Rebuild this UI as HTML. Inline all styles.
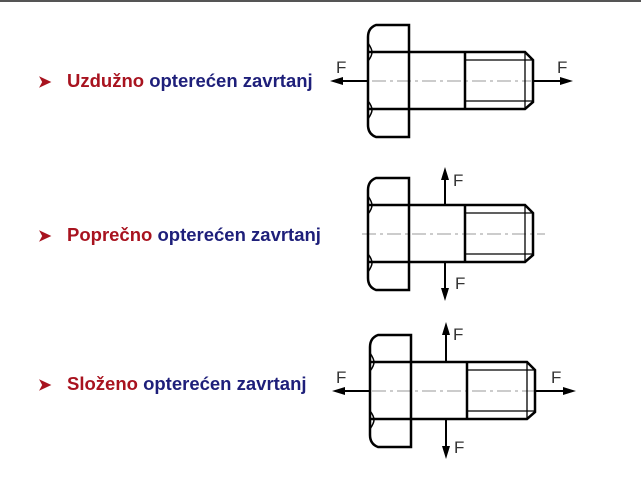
<!DOCTYPE html>
<html><head><meta charset="utf-8"><style>
html,body{margin:0;padding:0;background:#fff;}
body{width:641px;height:490px;position:relative;overflow:hidden;}
.t{position:absolute;left:38px;font-family:"Liberation Sans",sans-serif;font-weight:bold;font-size:18.5px;white-space:nowrap;line-height:22px;}
.r{color:#a8131f}.b{color:#1e1f7a}
.ar{color:#a8131f;font-size:16px;display:inline-block;width:29px;}
</style></head><body>
<div style="position:absolute;left:0;top:0;width:641px;height:2px;background:#555"></div>
<div class="t" style="top:70px"><span class="ar">➤</span><span class="r">Uzdužno</span> <span class="b">opterećen zavrtanj</span></div>
<div class="t" style="top:224px"><span class="ar">➤</span><span class="r">Poprečno</span> <span class="b">opterećen zavrtanj</span></div>
<div class="t" style="top:373px"><span class="ar">➤</span><span class="r">Složeno</span> <span class="b">opterećen zavrtanj</span></div>
<svg width="641" height="490" style="position:absolute;left:0;top:0" xmlns="http://www.w3.org/2000/svg">
<defs>
<g id="bolt" fill="none" stroke="#000">
 <path d="M41,-56 H8 Q0,-53 0,-44 V44 Q0,53 8,56 H41 Z" stroke-width="2.5"/>
 <path d="M0,-38 Q4,-32 4,-29 M0,38 Q4,32 4,29 M0,-20 Q4,-25 4,-29 M0,20 Q4,25 4,29" stroke-width="1.5"/>
 <path d="M0,-29 H41 M0,28 H41" stroke-width="2.5"/>
 <path d="M41,-29 H157 L165,-21 V21 L157,28 H41" stroke-width="2.5"/>
 <path d="M97,-29 V28" stroke-width="2.5"/>
 <path d="M97,-21 H165 M97,20 H165 M157,-29 V28" stroke-width="1.3"/>
</g>
</defs>
<g stroke="#999" stroke-width="1" stroke-dasharray="14,4,3,4" fill="none">
 <path d="M372,81 H531"/><path d="M362,234 H545"/><path d="M372,391 H535"/>
</g>
<use href="#bolt" transform="translate(368,81)"/>
<use href="#bolt" transform="translate(368,234)"/>
<use href="#bolt" transform="translate(370,391)"/>
<g stroke="#000" stroke-width="2" fill="none">
 <path d="M368,81 H338 M533,81 H562"/>
 <path d="M445,205 V178 M445,262 V290"/>
 <path d="M370,391 H340 M535,391 H565 M446,362 V334 M446,419 V448"/>
</g>
<g fill="#000">
 <path d="M330,81 L343,77 L343,85 Z"/><path d="M573,81 L560,77 L560,85 Z"/>
 <path d="M445,167 L441,180 L449,180 Z"/><path d="M445,301 L441,288 L449,288 Z"/>
 <path d="M332,391 L345,387 L345,395 Z"/><path d="M576,391 L563,387 L563,395 Z"/>
 <path d="M446,322 L442,335 L450,335 Z"/><path d="M446,459 L442,446 L450,446 Z"/>
</g>
<g font-family="Liberation Sans,sans-serif" font-size="17" fill="#333">
 <text x="336" y="73">F</text><text x="557" y="73">F</text>
 <text x="453" y="186">F</text><text x="455" y="289">F</text>
 <text x="336" y="383">F</text><text x="551" y="383">F</text>
 <text x="453" y="340">F</text><text x="454" y="453">F</text>
</g>
</svg>
</body></html>
